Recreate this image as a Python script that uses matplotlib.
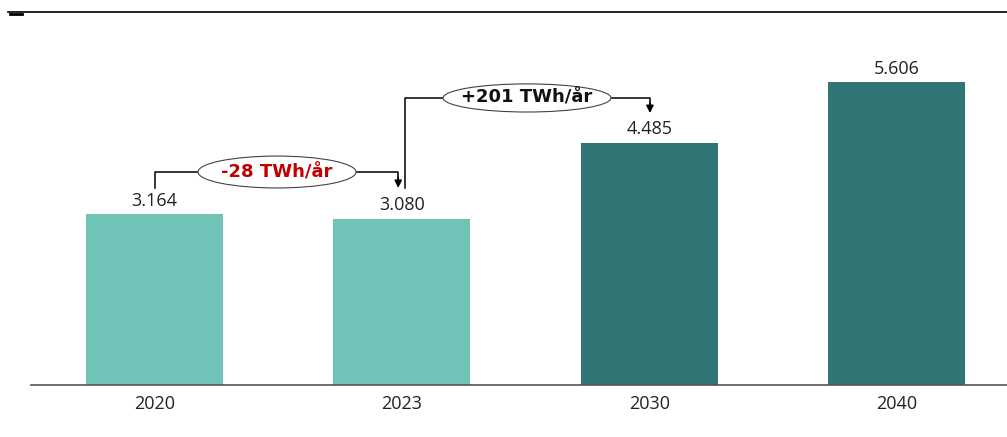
import matplotlib
matplotlib.use("Agg")
import matplotlib.pyplot as plt
from matplotlib.lines import Line2D
from matplotlib.patches import Ellipse

# Elforbrug pr. år (TWh)
years = ["2020", "2023", "2030", "2040"]
values = [3.164, 3.080, 4.485, 5.606]
value_labels = ["3.164", "3.080", "4.485", "5.606"]
colors = ["#70C3B7", "#70C3B7", "#307674", "#307674"]

# Ændringer mellem årene
change_labels = ["-28 TWh/år", "+201 TWh/år"]
change_colors = ["#C00000", "#111111"]

plt.rcParams.update({
    "font.family": ["Open Sans", "DejaVu Sans"],
    "font.size": 12,
})

fig = plt.figure(figsize=(10.07, 4.37), dpi=100)
ax = fig.add_axes([31 / 1007, 52 / 437, 1 - 31 / 1007, 373 / 437])

x = list(range(len(years)))
ax.bar(x, values, width=0.554, color=colors, zorder=2)

for xi, v, lab in zip(x, values, value_labels):
    ax.text(xi, v + 0.08, lab, ha="center", va="bottom", fontsize=13, color="#222222")

ax.set_xlim(-0.5, 3.447)
ax.set_ylim(0, 6.90)
ax.set_xticks(x)
ax.set_xticklabels(years, fontsize=13, color="#222222")
ax.tick_params(axis="x", length=0, pad=7)
ax.set_yticks([])
for side in ["top", "right", "left"]:
    ax.spines[side].set_visible(False)
ax.spines["bottom"].set_color("#555555")
ax.spines["bottom"].set_linewidth(1.2)


def bracket(x0, y0, x1, y_top, y_tip, ex, ew, eh, label, color):
    # venstre lodret + vandret linje, pil ned ved højre ende
    ax.plot([x0, x0, x1, x1], [y0, y_top, y_top, y_tip + 0.12], color="black", lw=1.1, zorder=3)
    ax.annotate("", xy=(x1, y_tip), xytext=(x1, y_tip + 0.2),
                arrowprops=dict(arrowstyle="-|>", color="black", lw=1.1,
                                mutation_scale=11, shrinkA=0, shrinkB=0))
    ax.add_patch(Ellipse((ex, y_top), ew, eh, facecolor="white",
                         edgecolor="#444444", lw=0.8, zorder=4))
    ax.text(ex, y_top, label, ha="center", va="center", fontsize=13,
            fontweight="bold", color=color, zorder=5, family="DejaVu Sans")


# 2020 -> 2023
bracket(0.0, 3.645, 0.985, 3.94, 3.645, 0.495, 0.639, 0.59,
        change_labels[0], change_colors[0])
# 2023 -> 2030
bracket(1.013, 3.645, 2.003, 5.31, 5.03, 1.506, 0.679, 0.52,
        change_labels[1], change_colors[1])

# linje øverst
fig.add_artist(Line2D([8 / 1007, 1.0], [1 - 12 / 437] * 2, color="black", lw=1.2))
fig.add_artist(Line2D([10 / 1007, 22 / 1007], [1 - 13.5 / 437] * 2, color="black", lw=2.0))

fig.savefig("out.png", dpi=100)
